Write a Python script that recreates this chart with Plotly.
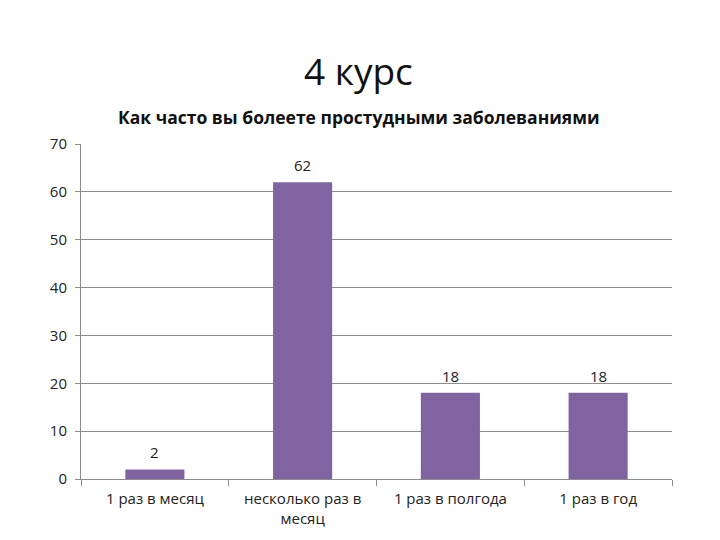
import plotly.graph_objects as go

categories = ["1 раз в месяц", "несколько раз в<br>месяц", "1 раз в полгода", "1 раз в год"]
values = [2, 62, 18, 18]
y_ticks = [0, 10, 20, 30, 40, 50, 60, 70]

fig = go.Figure()
fig.add_trace(go.Bar(
    x=categories, y=values,
    marker=dict(color="#8064A2", line=dict(width=0)),
    width=0.4,
))
annotations = [
    dict(text="4 курс", xref="paper", yref="paper", x=0.47, y=1.22, xanchor="center", yanchor="middle",
         showarrow=False, font=dict(size=37, color="#111111")),
    dict(text="<b>Как часто вы болеете простудными заболеваниями</b>", xref="paper", yref="paper",
         x=0.47, y=1.08, xanchor="center", yanchor="middle",
         showarrow=False, font=dict(size=17.5, color="#111111")),
]
for c, v in zip(categories, values):
    annotations.append(dict(text=str(v), x=c, y=v, xref="x", yref="y", yanchor="bottom",
                            yshift=5, showarrow=False, font=dict(size=15, color="#222222")))
fig.update_layout(
    width=720, height=540,
    paper_bgcolor="white", plot_bgcolor="white",
    margin=dict(l=73, r=56, t=136, b=69, autoexpand=False),
    font=dict(family="Open Sans, Liberation Sans, sans-serif", color="#222222", size=15),
    showlegend=False,
    annotations=annotations,
)
fig.update_yaxes(range=[0, 70], tickvals=y_ticks, showgrid=True, gridcolor="#8c8c8c", gridwidth=1,
                 showline=True, linecolor="#8c8c8c", ticks="outside", ticklen=5, tickcolor="#8c8c8c",
                 zeroline=False, tickfont=dict(size=15), automargin=False, ticklabelstandoff=5)
fig.update_xaxes(showline=True, linecolor="#8c8c8c", ticks="outside", tickson="boundaries",
                 ticklen=6, tickcolor="#8c8c8c", tickfont=dict(size=15), tickangle=0,
                 automargin=False, ticklabelstandoff=6)
fig.write_html("out.html")
